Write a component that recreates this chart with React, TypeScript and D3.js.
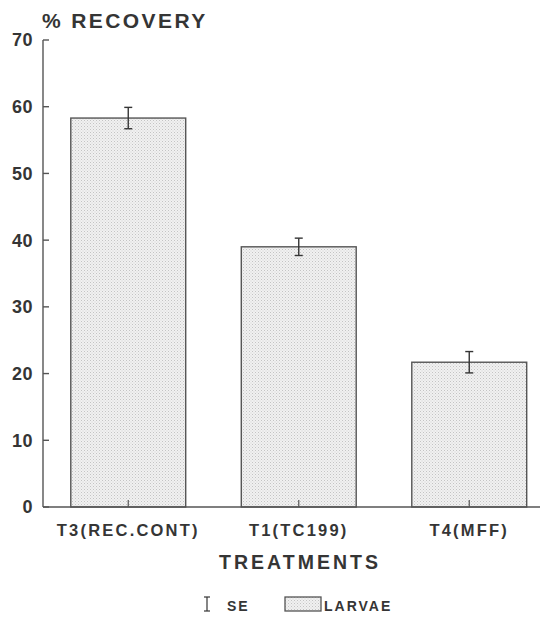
import React from "react";
import * as d3 from "d3";

const categories = ["T3(REC.CONT)", "T1(TC199)", "T4(MFF)"];
const recovery = [58.3, 39.0, 21.7];
const stdErr = [1.6, 1.3, 1.6];
const yTicks = [0, 10, 20, 30, 40, 50, 60, 70];

const W = 549;
const H = 632;
const ink = "#353535";
const font = "'Liberation Sans', Arial, Helvetica, sans-serif";

export default function App() {
  const x = d3
    .scaleBand<string>()
    .domain(categories)
    .range([43, 554.5])
    .paddingInner(0.326)
    .paddingOuter(0.163);
  const y = d3.scaleLinear().domain([0, 70]).range([507, 40]);
  const bw = x.bandwidth();

  return (
    <svg
      width={W}
      height={H}
      style={{ position: "absolute", left: 0, top: 0, background: "#fff" }}
      fontFamily={font}
    >
      <defs>
        <pattern id="dots" width="3" height="3" patternUnits="userSpaceOnUse">
          <rect width="3" height="3" fill="#f1f1f1" />
          <rect x="0" y="0" width="1" height="1" fill="#c4c4c4" />
          <rect x="1.5" y="1.5" width="1" height="1" fill="#d4d4d4" />
        </pattern>
      </defs>

      {/* axis title */}
      <text x={42} y={28} fontSize={21} fill={ink} letterSpacing={2.4} fontWeight="bold">
        % RECOVERY
      </text>

      {/* bars */}
      {categories.map((c, i) => (
        <rect
          key={c}
          x={x(c)}
          y={y(recovery[i])}
          width={bw}
          height={y(0) - y(recovery[i])}
          fill="url(#dots)"
          stroke="#555"
          strokeWidth={1.4}
        />
      ))}

      {/* standard error bars */}
      {categories.map((c, i) => {
        const cx = (x(c) as number) + bw / 2;
        const top = y(recovery[i] + stdErr[i]);
        const bot = y(recovery[i] - stdErr[i]);
        return (
          <g key={c} stroke={ink} strokeWidth={1.4}>
            <line x1={cx} x2={cx} y1={top} y2={bot} />
            <line x1={cx - 4} x2={cx + 4} y1={top} y2={top} />
            <line x1={cx - 4} x2={cx + 4} y1={bot} y2={bot} />
          </g>
        );
      })}

      {/* y axis */}
      <line x1={43} x2={43} y1={y(70)} y2={y(0)} stroke="#555" strokeWidth={1.4} />
      {yTicks.map((t) => (
        <g key={t}>
          <line x1={43} x2={49} y1={y(t)} y2={y(t)} stroke="#555" strokeWidth={1.4} />
          <text
            x={33}
            y={y(t)}
            dy="0.36em"
            textAnchor="end"
            fontSize={18}
            fontWeight="bold"
            fill={ink}
            letterSpacing={0.5}
          >
            {t}
          </text>
        </g>
      ))}

      {/* x axis */}
      <line x1={43} x2={540} y1={y(0)} y2={y(0)} stroke="#555" strokeWidth={1.4} />
      {categories.map((c) => {
        const cx = (x(c) as number) + bw / 2;
        return (
          <g key={c}>
            <line x1={cx} x2={cx} y1={y(0)} y2={y(0) - 7} stroke="#555" strokeWidth={1.2} />
            <text
              x={cx}
              y={536}
              textAnchor="middle"
              fontSize={16.5}
              fontWeight="bold"
              letterSpacing={2.2}
              fill={ink}
            >
              {c}
            </text>
          </g>
        );
      })}

      <text
        x={300}
        y={569}
        textAnchor="middle"
        fontSize={19.5}
        letterSpacing={3}
        fill={ink}
        fontWeight="bold"
      >
        TREATMENTS
      </text>

      {/* legend */}
      <g stroke={ink} strokeWidth={1.2}>
        <line x1={207} x2={207} y1={597} y2={611} />
        <line x1={204} x2={210} y1={597} y2={597} />
        <line x1={204} x2={210} y1={611} y2={611} />
      </g>
      <text x={227} y={611} fontSize={14} fontWeight="bold" letterSpacing={2} fill={ink}>
        SE
      </text>
      <rect x={285} y={597} width={36} height={14} fill="url(#dots)" stroke="#555" strokeWidth={1.3} />
      <text x={324} y={611} fontSize={14} fontWeight="bold" letterSpacing={2} fill={ink}>
        LARVAE
      </text>
    </svg>
  );
}
